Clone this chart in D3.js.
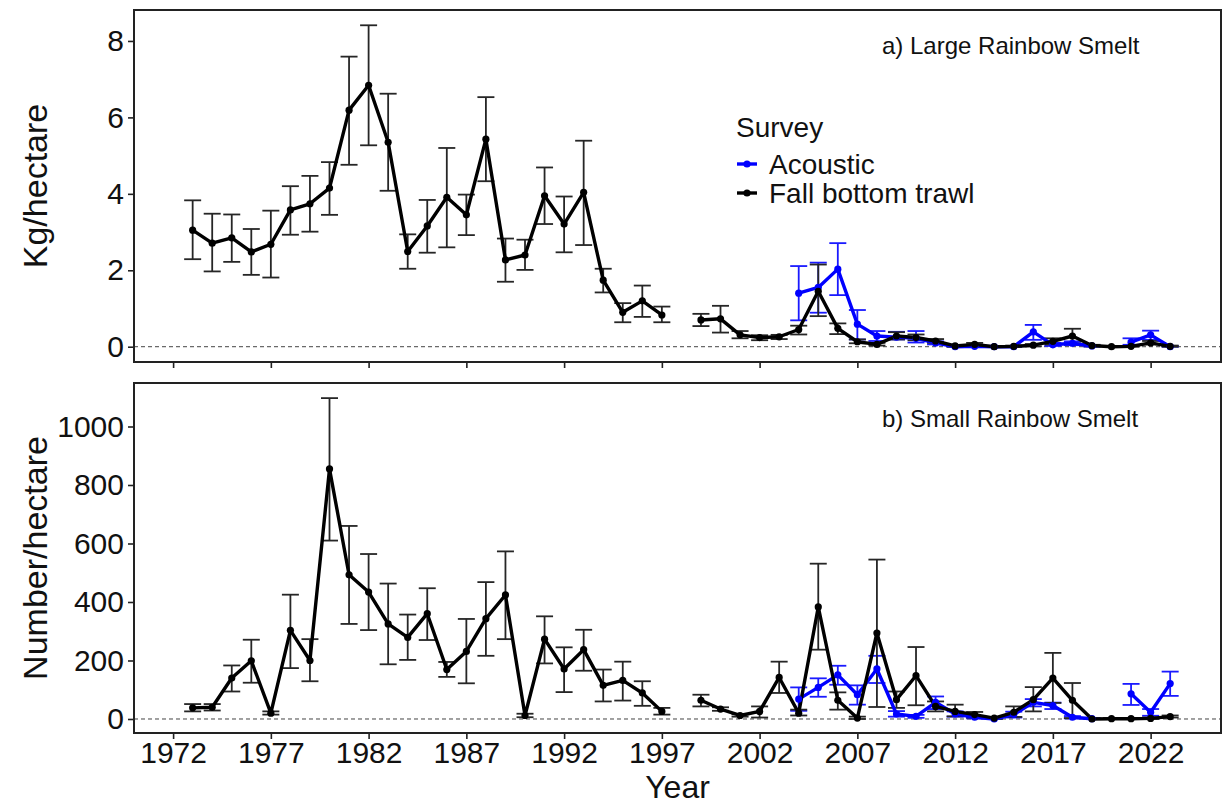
<!DOCTYPE html>
<html>
<head>
<meta charset="utf-8">
<script src="https://cdn.jsdelivr.net/npm/d3@7"></script>
<style>
  html, body { margin: 0; padding: 0; background: #ffffff; }
  svg { display: block; font-family: "Liberation Sans", Arial, sans-serif; }
</style>
</head>
<body>
<svg id="chart" width="1225" height="806"></svg>
<script>
// Survey years (null marks a year without a survey)
const trawlYears = d3.range(1973, 2024);
const acousticYears = d3.range(2004, 2024);

// a) Large Rainbow Smelt, kg/hectare — fall bottom trawl
const largeTrawl = [3.05, 2.71, 2.85, 2.48, 2.68, 3.58, 3.74, 4.15, 6.19, 6.84,
  5.35, 2.49, 3.16, 3.91, 3.45, 5.43, 2.27, 2.40, 3.95, 3.21,
  4.04, 1.74, 0.90, 1.20, 0.83, null, 0.70, 0.73, 0.31, 0.24,
  0.26, 0.45, 1.45, 0.48, 0.13, 0.06, 0.28, 0.24, 0.15, 0.02,
  0.06, 0.00, 0.01, 0.04, 0.14, 0.28, 0.03, 0.00, 0.01, 0.10, 0.01];
const largeTrawlLow = [2.29, 1.97, 2.22, 1.88, 1.81, 2.93, 3.01, 3.45, 4.76, 5.27,
  4.08, 2.04, 2.46, 2.60, 2.92, 4.33, 1.70, 2.01, 3.21, 2.47,
  2.66, 1.42, 0.64, 0.78, 0.64, null, 0.54, 0.37, 0.22, 0.17,
  0.20, 0.32, 0.80, 0.33, 0.09, 0.03, 0.19, 0.17, 0.10, 0.00,
  0.01, 0.00, 0.00, 0.01, 0.06, 0.09, 0.01, 0.00, 0.00, 0.06, 0.00];
const largeTrawlHigh = [3.83, 3.48, 3.46, 3.08, 3.56, 4.20, 4.47, 4.83, 7.59, 8.41,
  6.62, 2.94, 3.84, 5.20, 3.98, 6.53, 2.83, 2.80, 4.69, 3.93,
  5.39, 2.04, 1.14, 1.60, 1.05, null, 0.86, 1.07, 0.41, 0.30,
  0.31, 0.55, 2.15, 0.61, 0.19, 0.10, 0.38, 0.32, 0.20, 0.04,
  0.10, 0.01, 0.03, 0.07, 0.22, 0.47, 0.05, 0.01, 0.02, 0.15, 0.03];

// a) Large Rainbow Smelt, kg/hectare — acoustic
const largeAcoustic = [1.40, 1.55, 2.03, 0.59, 0.28, 0.25, 0.22, 0.10, 0.00, 0.01,
  0.00, 0.00, 0.39, 0.05, 0.09, 0.02, null, 0.12, 0.31, 0.00];
const largeAcousticLow = [0.69, 0.89, 1.35, 0.19, 0.15, 0.19, 0.11, 0.06, 0.00, 0.00,
  0.00, 0.00, 0.18, 0.02, 0.04, 0.00, null, 0.05, 0.18, 0.00];
const largeAcousticHigh = [2.11, 2.20, 2.71, 0.96, 0.41, 0.39, 0.41, 0.14, 0.02, 0.03,
  0.01, 0.02, 0.57, 0.10, 0.14, 0.04, null, 0.22, 0.42, 0.02];

// b) Small Rainbow Smelt, number/hectare — fall bottom trawl
const smallTrawl = [38, 40, 140, 199, 20, 303, 200, 855, 493, 434,
  325, 279, 360, 169, 231, 343, 424, 12, 273, 171,
  237, 115, 132, 89, 26, null, 64, 34, 12, 26,
  142, 20, 383, 64, 3, 294, 66, 148, 43, 26,
  15, 3, 23, 66, 140, 64, 0, 1, 1, 2, 8];
const smallTrawlLow = [26, 29, 94, 124, 15, 174, 129, 610, 325, 304,
  187, 202, 270, 144, 122, 216, 273, 6, 190, 92,
  165, 60, 63, 45, 15, null, 43, 28, 8, 5,
  89, 12, 237, 32, 0, 41, 38, 47, 26, 9,
  5, 0, 7, 26, 55, 3, 0, 0, 0, 0, 5];
const smallTrawlHigh = [51, 51, 183, 271, 26, 425, 273, 1097, 660, 564,
  463, 357, 447, 195, 342, 468, 573, 18, 351, 245,
  305, 169, 196, 129, 38, null, 83, 40, 16, 43,
  196, 32, 531, 91, 8, 545, 94, 246, 60, 49,
  24, 6, 43, 109, 226, 123, 2, 3, 3, 5, 12];

// b) Small Rainbow Smelt, number/hectare — acoustic
const smallAcoustic = [68, 108, 151, 83, 171, 17, 9, 57, 17, 6,
  0, 15, 57, 46, 6, 1, null, 86, 23, 121];
const smallAcousticLow = [28, 76, 117, 49, 123, 8, 4, 34, 8, 2,
  0, 5, 43, 34, 2, 0, null, 48, 11, 79];
const smallAcousticHigh = [108, 139, 182, 115, 216, 27, 14, 77, 26, 10,
  3, 25, 68, 56, 10, 3, null, 120, 34, 162];

// Axis ticks and labels
const yearTicks = [1972, 1977, 1982, 1987, 1992, 1997, 2002, 2007, 2012, 2017, 2022];
const largeTicks = [0, 2, 4, 6, 8];
const smallTicks = [0, 200, 400, 600, 800, 1000];
const surveyNames = ["Acoustic", "Fall bottom trawl"];
const surveyColors = ["#0000ff", "#000000"];
const barColors = ["#1a1aff", "#262626"];

function rows(years, mean, low, high) {
  return years.map((y, i) => ({ year: y, v: mean[i], lo: low[i], hi: high[i] }));
}

const panels = [
  {
    label: "a) Large Rainbow Smelt", title: "Kg/hectare",
    top: 10, bottom: 362, domain: [-0.40, 8.81], ticks: largeTicks, showX: false,
    series: [rows(acousticYears, largeAcoustic, largeAcousticLow, largeAcousticHigh),
             rows(trawlYears, largeTrawl, largeTrawlLow, largeTrawlHigh)]
  },
  {
    label: "b) Small Rainbow Smelt", title: "Number/hectare",
    top: 383, bottom: 733, domain: [-47.9, 1148.7], ticks: smallTicks, showX: true,
    series: [rows(acousticYears, smallAcoustic, smallAcousticLow, smallAcousticHigh),
             rows(trawlYears, smallTrawl, smallTrawlLow, smallTrawlHigh)]
  }
];

const left = 134, right = 1221;
const svg = d3.select("#chart");
const x = d3.scaleLinear().domain([1970, 2025.6]).range([left, right]);
const capHalf = 8.5;

panels.forEach(p => {
  const y = d3.scaleLinear().domain(p.domain).range([p.bottom, p.top]);
  const g = svg.append("g");

  // zero reference line
  g.append("line")
    .attr("x1", left).attr("x2", right)
    .attr("y1", y(0)).attr("y2", y(0))
    .attr("stroke", "#444").attr("stroke-width", 1)
    .attr("stroke-dasharray", "4,3");

  // error bars
  p.series.forEach((s, si) => {
    const eb = g.append("g").attr("stroke", barColors[si]).attr("stroke-width", 1.8).attr("fill", "none");
    s.filter(d => d.v != null).forEach(d => {
      eb.append("line").attr("x1", x(d.year)).attr("x2", x(d.year)).attr("y1", y(d.lo)).attr("y2", y(d.hi));
      eb.append("line").attr("x1", x(d.year) - capHalf).attr("x2", x(d.year) + capHalf).attr("y1", y(d.lo)).attr("y2", y(d.lo));
      eb.append("line").attr("x1", x(d.year) - capHalf).attr("x2", x(d.year) + capHalf).attr("y1", y(d.hi)).attr("y2", y(d.hi));
    });
  });

  // lines
  const line = d3.line().defined(d => d.v != null).x(d => x(d.year)).y(d => y(d.v));
  p.series.forEach((s, si) => {
    g.append("path").datum(s)
      .attr("d", line)
      .attr("fill", "none")
      .attr("stroke", surveyColors[si])
      .attr("stroke-width", 3.4)
      .attr("stroke-linejoin", "round");
  });

  // points
  p.series.forEach((s, si) => {
    g.append("g").selectAll("circle")
      .data(s.filter(d => d.v != null))
      .join("circle")
      .attr("cx", d => x(d.year)).attr("cy", d => y(d.v))
      .attr("r", 3.6).attr("fill", surveyColors[si]);
  });

  // y axis
  const yAxis = d3.axisLeft(y).tickValues(p.ticks).tickSize(6).tickPadding(4).tickFormat(d3.format("d"));
  const ya = svg.append("g").attr("transform", `translate(${left},0)`).call(yAxis);
  ya.select(".domain").remove();
  ya.selectAll(".tick line").attr("stroke", "#222").attr("stroke-width", 1.6);
  ya.selectAll(".tick text").attr("font-size", 30).attr("fill", "#111")
    .attr("font-family", "'Liberation Sans', Arial, sans-serif");

  // x axis
  const xAxis = d3.axisBottom(x).tickValues(yearTicks).tickSize(6).tickPadding(3)
    .tickFormat(p.showX ? d3.format("d") : () => "");
  const xa = svg.append("g").attr("transform", `translate(0,${p.bottom})`).call(xAxis);
  xa.select(".domain").remove();
  xa.selectAll(".tick line").attr("stroke", "#222").attr("stroke-width", 1.6);
  xa.selectAll(".tick text").attr("font-size", 30).attr("fill", "#111")
    .attr("font-family", "'Liberation Sans', Arial, sans-serif");

  // panel border
  svg.append("rect")
    .attr("x", left).attr("y", p.top)
    .attr("width", right - left).attr("height", p.bottom - p.top)
    .attr("fill", "none").attr("stroke", "#222").attr("stroke-width", 2);

  // panel label
  svg.append("text")
    .attr("x", 882).attr("y", p.top + 44)
    .attr("font-size", 24).attr("fill", "#111")
    .text(p.label);

  // y axis title
  svg.append("text")
    .attr("transform", `translate(47,${(p.top + p.bottom) / 2}) rotate(-90)`)
    .attr("text-anchor", "middle")
    .attr("font-size", 34).attr("fill", "#111")
    .text(p.title);
});

// x axis title
svg.append("text")
  .attr("x", (left + right) / 2).attr("y", 798)
  .attr("text-anchor", "middle")
  .attr("font-size", 32).attr("fill", "#111")
  .text("Year");

// legend
const legend = svg.append("g").attr("transform", "translate(736,0)");
legend.append("text").attr("x", 0).attr("y", 137).attr("font-size", 28).attr("fill", "#111").text("Survey");
surveyNames.forEach((name, i) => {
  const cy = 164 + i * 29;
  legend.append("line").attr("x1", 1).attr("x2", 21).attr("y1", cy).attr("y2", cy)
    .attr("stroke", surveyColors[i]).attr("stroke-width", 3.4);
  legend.append("circle").attr("cx", 11).attr("cy", cy).attr("r", 3.6).attr("fill", surveyColors[i]);
  legend.append("text").attr("x", 33).attr("y", cy + 10).attr("font-size", 28).attr("fill", "#111").text(name);
});
</script>
</body>
</html>
